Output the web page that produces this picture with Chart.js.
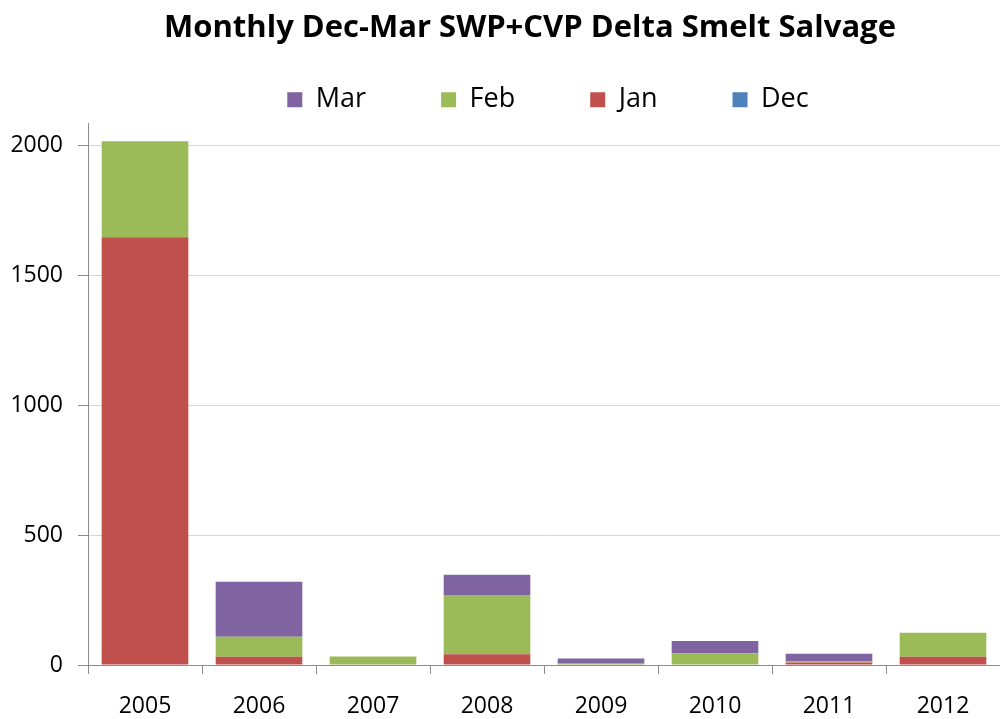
<!DOCTYPE html>
<html>
<head>
<meta charset="utf-8">
<script src="https://cdn.jsdelivr.net/npm/chart.js@4/dist/chart.umd.min.js"></script>
<style>
  html, body { margin: 0; padding: 0; background: #fff; }
  #wrap { width: 1000px; height: 719px; }
</style>
</head>
<body>
<div id="wrap"><canvas id="grafico"></canvas></div>
<script>
// salvage counts per water year, by month
const years = ["2005", "2006", "2007", "2008", "2009", "2010", "2011", "2012"];
const dec = [0, 0, 0, 0, 0, 0, 0, 0];
const jan = [1646, 32, 0, 41, 2, 0, 10, 32];
const feb = [370, 77, 33, 228, 6, 45, 4, 92];
const mar = [0, 211, 0, 78, 17, 47, 29, 0];
const yTicks = [0, 500, 1000, 1500, 2000];

const fuente = "'Open Sans', sans-serif";
const gris = "#8c8c8c";

function serie(label, data, color) {
  return {
    label: label,
    data: data,
    backgroundColor: color,
    borderWidth: 0,
    barPercentage: 0.76,
    categoryPercentage: 1
  };
}

// title and legend sit a bit right of the canvas center
const desplazar = {
  id: "desplazar",
  afterLayout(chart) {
    chart.titleBlock.left += 30;
    chart.titleBlock.right += 30;
    chart.legend.left += 48;
    chart.legend.right += 48;
  }
};

const ctx = document.getElementById("grafico").getContext("2d");
window.myChart = new Chart(ctx, {
  type: "bar",
  data: {
    labels: years,
    datasets: [
      serie("Dec", dec, "#4f81bd"),
      serie("Jan", jan, "#c0504d"),
      serie("Feb", feb, "#9bbb59"),
      serie("Mar", mar, "#8064a2")
    ]
  },
  plugins: [desplazar],
  options: {
    responsive: true,
    maintainAspectRatio: false,
    animation: false,
    layout: { padding: { left: 0, right: 0, top: 0, bottom: 0 } },
    plugins: {
      title: {
        display: true,
        text: "Monthly Dec-Mar SWP+CVP Delta Smelt Salvage",
        color: "#000",
        font: { family: fuente, size: 31, weight: "bold" },
        // negative bottom so the wide legend padding does not push everything down
        padding: { top: 10, bottom: -36 }
      },
      legend: {
        reverse: true,
        labels: {
          boxWidth: 15,
          boxHeight: 15,
          padding: 75,
          color: "#000",
          font: { family: fuente, size: 27 }
        }
      },
      tooltip: { enabled: false }
    },
    scales: {
      x: {
        stacked: true,
        afterFit: function (scale) {
          scale.height = 54;
        },
        grid: {
          display: true,
          offset: true,
          drawOnChartArea: false,
          color: gris,
          tickLength: 9
        },
        border: { color: gris },
        ticks: { color: "#000", font: { family: fuente, size: 23 }, padding: 19 }
      },
      y: {
        stacked: true,
        min: 0,
        max: 2085,
        afterBuildTicks: function (scale) {
          scale.ticks = yTicks.map(v => ({ value: v }));
        },
        afterFit: function (scale) {
          scale.width = 88;
        },
        grid: {
          color: "#c6d9f1",
          tickColor: gris,
          tickLength: 10
        },
        border: { color: gris },
        ticks: {
          color: "#000",
          font: { family: fuente, size: 23 },
          padding: 15,
          callback: v => String(v)
        }
      }
    }
  }
});
</script>
</body>
</html>
